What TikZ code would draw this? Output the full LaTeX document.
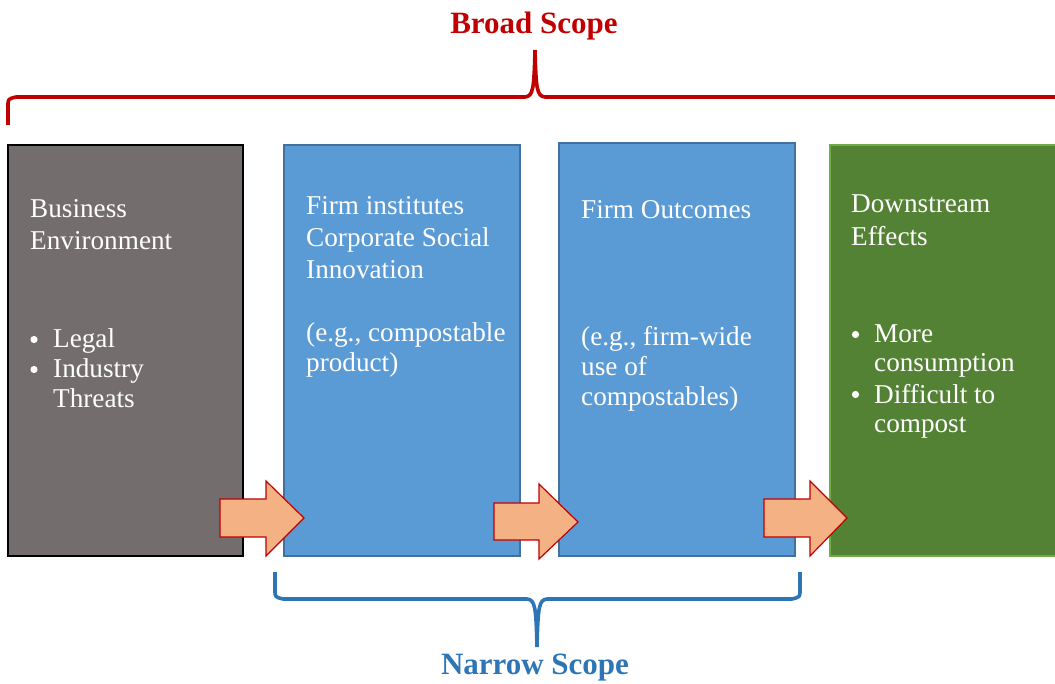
\documentclass[tikz,border=0pt]{standalone}
\usepackage{fontspec}
\setmainfont{Liberation Serif}
\begin{document}
\definecolor{envgray}{HTML}{736E6D}
\definecolor{stepblue}{HTML}{5B9BD5}
\definecolor{stepblueline}{HTML}{41719C}
\definecolor{effgreen}{HTML}{548235}
\definecolor{effgreenline}{HTML}{70AD47}
\definecolor{arrowfill}{HTML}{F4B183}
\definecolor{scopered}{HTML}{C00000}
\definecolor{scopeblue}{HTML}{2E75B6}
\begin{tikzpicture}[x=1pt,y=-1pt,
  stagebox/.style={draw,line width=1.3pt,inner sep=0pt,outer sep=0pt},
  txt/.style={anchor=base west,inner sep=0pt,text=white,font=\fontsize{27.2}{31}\selectfont},
  bulletdot/.style={fill=white},
  blockarrow/.style={fill=arrowfill,draw=scopered,line width=1.2pt,line join=miter},
  brace/.style={line width=3.6pt,line cap=butt,line join=round},
  scopelabel/.style={inner sep=0pt,font=\fontsize{31}{34}\selectfont\bfseries}]
\useasboundingbox (0,0) rectangle (1055,684);
\clip (0,0) rectangle (1055,684);

% stage boxes
\path[stagebox,draw=black,fill=envgray] (8,145) rectangle (243,556);
\node[inner sep=0pt] (env) at (125.5,350.5) {};
\path[stagebox,draw=stepblueline,fill=stepblue] (284,145) rectangle (520,556);
\node[inner sep=0pt] (csi) at (402,350.5) {};
\path[stagebox,draw=stepblueline,fill=stepblue] (559,143) rectangle (795,556);
\node[inner sep=0pt] (out) at (677,349.5) {};
\path[stagebox,draw=effgreenline,fill=effgreen] (830,145) rectangle (1070,556);
\node[inner sep=0pt] (eff) at (950,350.5) {};

% box texts
\node[txt] (e1) at (30,218) {Business};
\node[txt] (e2) at (30,250) {Environment};
\fill[bulletdot] (34,339.5) circle (3.6);
\node[txt] (e3) at (53,348) {Legal};
\fill[bulletdot] (34,369.5) circle (3.6);
\node[txt] (e4) at (53,378) {Industry};
\node[txt] (e5) at (53,408) {Threats};

\node[txt] (c1) at (306,215) {Firm institutes};
\node[txt] (c2) at (306,247) {Corporate Social};
\node[txt] (c3) at (306,279) {Innovation};
\node[txt] (c4) at (306,342) {(e.g., compostable};
\node[txt] (c5) at (306,372) {product)};

\node[txt] (o1) at (581,219) {Firm Outcomes};
\node[txt] (o2) at (581,346) {(e.g., firm-wide};
\node[txt] (o3) at (581,376) {use of};
\node[txt] (o4) at (581,406) {compostables)};

\node[txt] (d1) at (851,213) {Downstream};
\node[txt] (d2) at (851,246) {Effects};
\fill[bulletdot] (855.5,334.5) circle (3.6);
\node[txt] (d3) at (874,343) {More};
\node[txt] (d4) at (874,372) {consumption};
\fill[bulletdot] (855.5,394.5) circle (3.6);
\node[txt] (d5) at (874,403) {Difficult to};
\node[txt] (d6) at (874,432) {compost};

% block arrows between stages
\draw[blockarrow] (220,499) -- (266,499) -- (266,481) -- (304,518) -- (266,556) -- (266,537) -- (220,537) -- cycle;
\draw[blockarrow] (494,503) -- (539,503) -- (539,484) -- (578,522) -- (539,559) -- (539,540) -- (494,540) -- cycle;
\draw[blockarrow] (764,499) -- (810,499) -- (810,481) -- (847,518) -- (810,556) -- (810,537) -- (764,537) -- cycle;

% broad scope brace
\coordinate (bl) at (8,125);
\coordinate (bt) at (535,50);
\coordinate (br) at (1065,97);
\draw[brace,scopered] (bl) -- (8,106) .. controls (8,99) .. (16,97) -- (525,97) .. controls (533,96) and (534,90) .. (bt);
\draw[brace,scopered] (bt) .. controls (536,90) and (537,96) .. (545,97) -- (br);
\node[scopelabel,text=scopered] (broad) at (534,26) {Broad Scope};

% narrow scope brace
\coordinate (nl) at (275,572);
\coordinate (nt) at (537,647);
\coordinate (nr) at (800,572);
\draw[brace,scopeblue] (nl) -- (275,590) .. controls (275,597) .. (283,599) -- (527,599) .. controls (535,600) and (536,606) .. (nt);
\draw[brace,scopeblue] (nt) .. controls (538,606) and (539,600) .. (547,599) -- (792,599) .. controls (800,597) .. (800,590) -- (nr);
\node[scopelabel,text=scopeblue] (narrow) at (535,668) {Narrow Scope};
\end{tikzpicture}
\end{document}
